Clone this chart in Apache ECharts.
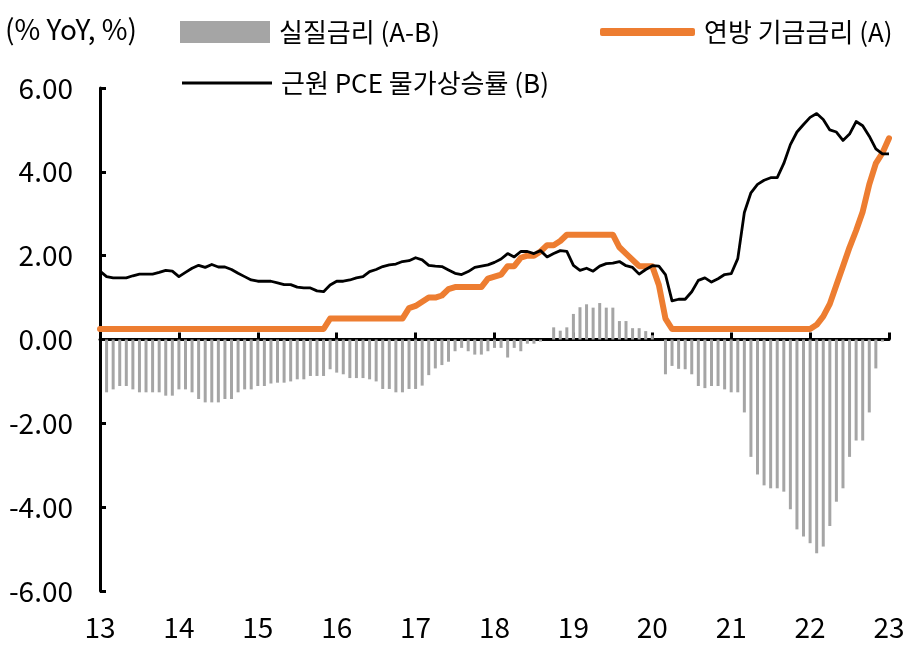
<!DOCTYPE html>
<html>
<head>
<meta charset="utf-8">
<title>실질금리</title>
<script src="https://cdn.jsdelivr.net/npm/echarts@6/dist/echarts.min.js"></script>
<style>
  html, body { margin: 0; padding: 0; background: #fff; }
  #chart { width: 921px; height: 649px; }
</style>
</head>
<body>
<div id="chart"></div>
<script>
// year tick labels (Jan of each year)
const yearLabels = ['13', '14', '15', '16', '17', '18', '19', '20', '21', '22', '23'];

// monthly categories, Jan 2013 .. Jan 2023
const months = [];
yearLabels.forEach(function (y, i) {
  const last = i === yearLabels.length - 1 ? 1 : 12;
  for (let m = 1; m <= last; m++) {
    months.push(y + '.' + (m < 10 ? '0' + m : m));
  }
});

// 연방 기금금리 (A), %
const fedRate = [
  0.25, 0.25, 0.25, 0.25, 0.25, 0.25, 0.25, 0.25, 0.25, 0.25, 0.25, 0.25,
  0.25, 0.25, 0.25, 0.25, 0.25, 0.25, 0.25, 0.25, 0.25, 0.25, 0.25, 0.25,
  0.25, 0.25, 0.25, 0.25, 0.25, 0.25, 0.25, 0.25, 0.25, 0.25, 0.25, 0.5,
  0.5, 0.5, 0.5, 0.5, 0.5, 0.5, 0.5, 0.5, 0.5, 0.5, 0.5, 0.75,
  0.8, 0.9, 1.0, 1.0, 1.05, 1.2, 1.25, 1.25, 1.25, 1.25, 1.25, 1.45,
  1.5, 1.55, 1.75, 1.75, 1.95, 2.0, 2.0, 2.1, 2.25, 2.25, 2.35, 2.5,
  2.5, 2.5, 2.5, 2.5, 2.5, 2.5, 2.5, 2.2, 2.05, 1.9, 1.75, 1.75,
  1.75, 1.3, 0.5, 0.25, 0.25, 0.25, 0.25, 0.25, 0.25, 0.25, 0.25, 0.25,
  0.25, 0.25, 0.25, 0.25, 0.25, 0.25, 0.25, 0.25, 0.25, 0.25, 0.25, 0.25,
  0.25, 0.35, 0.55, 0.85, 1.3, 1.75, 2.2, 2.6, 3.05, 3.7, 4.2, 4.45,
  4.8
];

// 근원 PCE 물가상승률 (B), % YoY
const corePce = [
  1.63, 1.5, 1.47, 1.47, 1.47, 1.52, 1.56, 1.56, 1.56, 1.6, 1.65, 1.63,
  1.5, 1.6, 1.7, 1.77, 1.72, 1.79, 1.73, 1.73, 1.67, 1.58, 1.5, 1.42,
  1.39, 1.39, 1.39, 1.35, 1.31, 1.31, 1.25, 1.23, 1.23, 1.16, 1.14, 1.3,
  1.39, 1.39, 1.42, 1.47, 1.5, 1.62, 1.67, 1.74, 1.78, 1.8, 1.86, 1.88,
  1.95, 1.9, 1.77, 1.75, 1.74, 1.66, 1.58, 1.55, 1.62, 1.72, 1.75, 1.78,
  1.84, 1.92, 2.05, 1.97, 2.1, 2.1, 2.05, 2.12, 1.97, 2.05, 2.12, 2.1,
  1.77, 1.65, 1.7, 1.63, 1.75, 1.81, 1.82, 1.86, 1.76, 1.72, 1.56, 1.67,
  1.76, 1.75, 1.55, 0.92, 0.96, 0.96, 1.14, 1.41, 1.47, 1.37, 1.45, 1.55,
  1.57, 1.93, 3.03, 3.5, 3.7, 3.8, 3.86, 3.86, 4.2, 4.65, 4.95, 5.13,
  5.3, 5.39, 5.25, 5.0, 4.95, 4.75, 4.9, 5.2, 5.1, 4.85, 4.55, 4.43,
  4.43
];

// 실질금리 (A-B), %p
const realRate = [
  null, -1.26, -1.19, -1.11, -1.11, -1.19, -1.26, -1.26, -1.26, -1.26, -1.34, -1.34,
  -1.19, -1.19, -1.26, -1.42, -1.5, -1.5, -1.5, -1.42, -1.42, -1.26, -1.19, -1.19,
  -1.11, -1.11, -1.05, -1.03, -1.03, -1.0, -0.95, -0.95, -0.87, -0.87, -0.87, -0.71,
  -0.79, -0.83, -0.92, -0.92, -0.92, -0.95, -1.0, -1.18, -1.18, -1.26, -1.26, -1.18,
  -1.18, -1.1, -0.85, -0.69, -0.61, -0.53, -0.28, -0.2, -0.28, -0.36, -0.36, -0.28,
  -0.2, -0.2, -0.43, -0.2, -0.28, -0.1, -0.1, -0.05, 0, 0.29, 0.21, 0.29,
  0.61, 0.77, 0.84, 0.76, 0.87, 0.76, 0.76, 0.44, 0.44, 0.27, 0.27, 0.2,
  0.1, 0, -0.83, -0.63, -0.7, -0.71, -0.83, -1.11, -1.16, -1.11, -1.11, -1.19,
  -1.26, -1.26, -1.74, -2.8, -3.22, -3.48, -3.55, -3.55, -3.63, -4.05, -4.53, -4.7,
  -4.86, -5.1, -4.94, -4.45, -3.87, -3.55, -2.8, -2.41, -2.41, -1.74, -0.69, -0.05,
  null
];

const FONT = "'Noto Sans CJK KR', 'Noto Sans', sans-serif";

const chart = echarts.init(document.getElementById('chart'), null, { renderer: 'canvas' });

const legendText = {
  color: '#000',
  fontFamily: FONT,
  fontSize: 26,
  lineHeight: 28,
  padding: [0, 0, 0, 4]
};

const option = {
  backgroundColor: '#fff',
  animation: false,
  textStyle: { fontFamily: FONT, color: '#000' },
  title: {
    text: '(% YoY, %)',
    left: 0,
    top: 10,
    textStyle: { fontFamily: FONT, fontSize: 28, fontWeight: 'normal', color: '#000' }
  },
  legend: [
    {
      left: 175, top: 13,
      itemWidth: 90, itemHeight: 22,
      textStyle: legendText,
      data: [{ name: '실질금리 (A-B)', icon: 'rect' }]
    },
    {
      left: 595, top: 13,
      itemWidth: 95, itemHeight: 8,
      textStyle: legendText,
      data: [{ name: '연방 기금금리 (A)', icon: 'roundRect' }]
    },
    {
      left: 177, top: 64,
      itemWidth: 90, itemHeight: 3,
      textStyle: legendText,
      data: [{ name: '근원 PCE 물가상승률 (B)', icon: 'rect' }]
    }
  ],
  grid: { left: 100, right: 32, top: 88, bottom: 58, containLabel: false },
  xAxis: [
    {
      type: 'category',
      data: months,
      boundaryGap: false,
      axisLine: { show: true, onZero: true, lineStyle: { color: '#000', width: 3 } },
      axisTick: { show: true, inside: true, interval: 11, length: 7, lineStyle: { color: '#000', width: 3 } },
      axisLabel: { show: false },
      splitLine: { show: false }
    },
    {
      type: 'category',
      data: months,
      position: 'bottom',
      boundaryGap: false,
      axisLine: { show: false, onZero: false },
      axisTick: { show: false },
      axisLabel: {
        interval: 11,
        margin: 22,
        color: '#000',
        fontFamily: FONT,
        fontSize: 28,
        formatter: function (v) { return v.slice(0, 2); }
      },
      splitLine: { show: false }
    }
  ],
  yAxis: {
    type: 'value',
    min: -6,
    max: 6,
    interval: 2,
    axisLine: { show: true, lineStyle: { color: '#000', width: 3 } },
    axisTick: { show: true, inside: true, length: 6, lineStyle: { color: '#000', width: 3 } },
    axisLabel: {
      margin: 27,
      color: '#000',
      fontFamily: FONT,
      fontSize: 28,
      formatter: function (v) { return v.toFixed(2); }
    },
    splitLine: { show: false }
  },
  series: [
    {
      name: '실질금리 (A-B)',
      type: 'bar',
      xAxisIndex: 0,
      data: realRate,
      barWidth: 3,
      itemStyle: { color: '#a5a5a5' },
      z: 2
    },
    {
      name: '연방 기금금리 (A)',
      type: 'line',
      xAxisIndex: 0,
      data: fedRate,
      symbol: 'none',
      lineStyle: { color: '#ed7d31', width: 6, join: 'round', cap: 'round' },
      itemStyle: { color: '#ed7d31' },
      z: 3
    },
    {
      name: '근원 PCE 물가상승률 (B)',
      type: 'line',
      xAxisIndex: 0,
      data: corePce,
      symbol: 'none',
      lineStyle: { color: '#000', width: 2.8, join: 'round' },
      itemStyle: { color: '#000' },
      z: 4
    }
  ]
};

chart.setOption(option);
</script>
</body>
</html>
